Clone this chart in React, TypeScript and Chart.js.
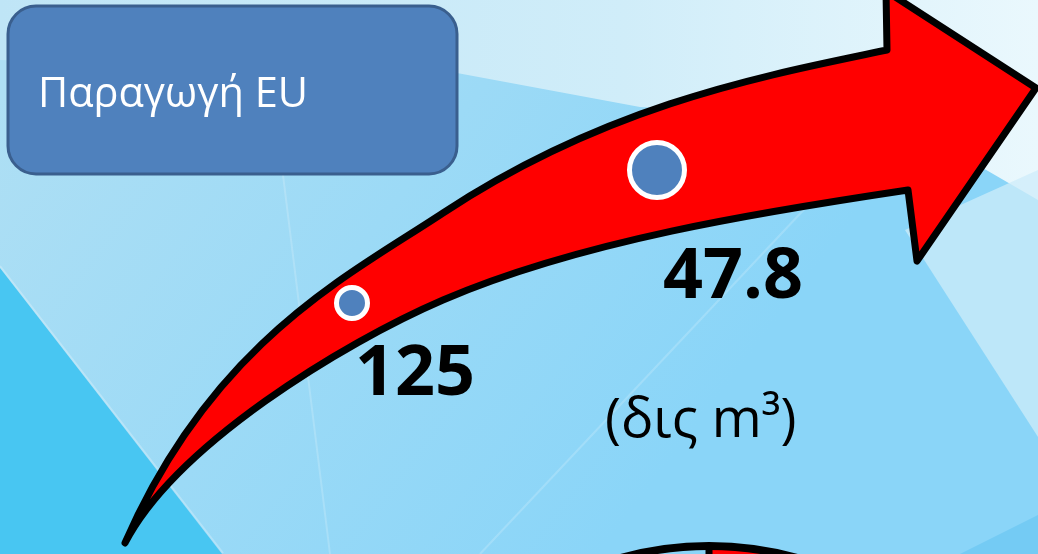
import React, { useEffect, useRef } from "react";
import { Chart, registerables } from "chart.js";

Chart.register(...registerables);

// ---- data ----
const steps = [0, 1];
const values = [125, 47.8];
const valueLabels = ["125", "47.8"];
const bubbleRadii = [15.5, 27.5];
const boxTitle = "Παραγωγή EU";
const unitLabel = "(δις m³)";

// ---- layout / style (not data) ----
const W = 1038;
const H = 554;
const labelOffsets = [
  [3, 92],
  [6, 128],
];
const FONT = "'Open Sans', 'Noto Sans', sans-serif";

type P = [number, number];

function poly(ctx: CanvasRenderingContext2D, pts: P[], fill: string | CanvasGradient) {
  ctx.beginPath();
  ctx.moveTo(pts[0][0], pts[0][1]);
  for (let i = 1; i < pts.length; i++) ctx.lineTo(pts[i][0], pts[i][1]);
  ctx.closePath();
  ctx.fillStyle = fill;
  ctx.fill();
}

function roundRect(ctx: CanvasRenderingContext2D, x: number, y: number, w: number, h: number, r: number) {
  ctx.beginPath();
  ctx.moveTo(x + r, y);
  ctx.lineTo(x + w - r, y);
  ctx.arcTo(x + w, y, x + w, y + r, r);
  ctx.lineTo(x + w, y + h - r);
  ctx.arcTo(x + w, y + h, x + w - r, y + h, r);
  ctx.lineTo(x + r, y + h);
  ctx.arcTo(x, y + h, x, y + h - r, r);
  ctx.lineTo(x, y + r);
  ctx.arcTo(x, y, x + r, y, r);
  ctx.closePath();
}

const backgroundPlugin = {
  id: "slideBackground",
  beforeDraw(chart: any) {
    const ctx: CanvasRenderingContext2D = chart.ctx;
    ctx.save();
    const g = ctx.createLinearGradient(0, 100, 600, 554);
    g.addColorStop(0, "#AEDFF4");
    g.addColorStop(1, "#8AD5F8");
    ctx.fillStyle = g;
    ctx.fillRect(0, 0, W, H);
    // light upper band
    const g2 = ctx.createLinearGradient(0, 0, W, 0);
    g2.addColorStop(0, "#BFE5F6");
    g2.addColorStop(0.6, "#D0EDF9");
    g2.addColorStop(1, "#EAF8FD");
    poly(ctx, [[0, 0], [W, 0], [W, 200], [900, 120], [640, 107], [457, 73], [0, 60]], g2);
    // right light facet
    poly(ctx, [[905, 230], [W, 170], [W, 437], [937, 280]], "rgba(205,236,250,0.75)");
    // bottom right darker strip
    poly(ctx, [[960, H], [W, 515], [W, H]], "#74CBF4");
    // cyan left triangle
    poly(ctx, [[0, 268], [222, H], [0, H]], "#48C6F2");
    // faint highlight lines
    ctx.strokeStyle = "rgba(255,255,255,0.25)";
    ctx.lineWidth = 2;
    ctx.beginPath();
    ctx.moveTo(0, 266);
    ctx.lineTo(223, 553);
    ctx.stroke();
    ctx.strokeStyle = "rgba(255,255,255,0.18)";
    ctx.beginPath();
    ctx.moveTo(283, 175);
    ctx.lineTo(330, H);
    ctx.moveTo(860, 150);
    ctx.lineTo(480, H);
    ctx.stroke();
    ctx.restore();
  },
};

const decorPlugin = {
  id: "slideDecor",
  beforeDatasetsDraw(chart: any) {
    const ctx: CanvasRenderingContext2D = chart.ctx;
    ctx.save();
    // red curved arrow
    ctx.beginPath();
    ctx.moveTo(125, 543);
    ctx.bezierCurveTo(213, 341, 351, 274, 443, 213);
    ctx.bezierCurveTo(610, 103, 769.5, 74.7, 887, 50);
    ctx.lineTo(886, -9);
    ctx.lineTo(1036, 88);
    ctx.lineTo(917, 261);
    ctx.lineTo(908, 190);
    ctx.bezierCurveTo(759.6, 212.2, 580.9, 240.8, 443, 300);
    ctx.bezierCurveTo(341.9, 343.5, 175.9, 445.4, 125, 543);
    ctx.closePath();
    ctx.fillStyle = "#FF0000";
    ctx.fill();
    ctx.lineJoin = "round";
    ctx.lineWidth = 7;
    ctx.strokeStyle = "#000000";
    ctx.stroke();

    // partial pie at the bottom
    const cx = 709, R = 330, cy = 546 + R;
    ctx.beginPath();
    ctx.moveTo(cx, cy);
    ctx.arc(cx, cy, R, -Math.PI / 2, 0);
    ctx.closePath();
    ctx.fillStyle = "#FF0000";
    ctx.fill();
    ctx.beginPath();
    ctx.arc(cx, cy, R, 0, Math.PI * 2);
    ctx.lineWidth = 8;
    ctx.stroke();
    ctx.beginPath();
    ctx.moveTo(cx, cy);
    ctx.lineTo(cx, cy - R);
    ctx.lineWidth = 7;
    ctx.stroke();

    // title box
    roundRect(ctx, 8, 6, 449, 168, 28);
    ctx.fillStyle = "#4F81BD";
    ctx.fill();
    ctx.lineWidth = 3;
    ctx.strokeStyle = "#3A5F8E";
    ctx.stroke();
    ctx.fillStyle = "#FFFFFF";
    ctx.font = `400 41.5px ${FONT}`;
    ctx.textBaseline = "alphabetic";
    ctx.textAlign = "left";
    ctx.fillText(boxTitle, 38, 107);
    ctx.restore();
  },
  afterDatasetsDraw(chart: any) {
    const ctx: CanvasRenderingContext2D = chart.ctx;
    const meta = chart.getDatasetMeta(0);
    ctx.save();
    ctx.fillStyle = "#000000";
    ctx.textAlign = "left";
    ctx.textBaseline = "alphabetic";
    ctx.font = `700 70px ${FONT}`;
    meta.data.forEach((el: any, i: number) => {
      const [dx, dy] = labelOffsets[i];
      ctx.fillText(valueLabels[i], el.x + dx, el.y + dy);
    });
    ctx.font = `400 54px ${FONT}`;
    ctx.fillText(unitLabel, 605, 437);
    ctx.restore();
  },
};

export default function App() {
  const ref = useRef<HTMLCanvasElement | null>(null);
  useEffect(() => {
    if (!ref.current) return;
    const chart = new Chart(ref.current, {
      type: "bubble",
      data: {
        datasets: [
          {
            data: steps.map((s, i) => ({ x: s, y: values[i], r: bubbleRadii[i] })),
            backgroundColor: "#4F81BD",
            borderColor: "#FFFFFF",
            borderWidth: 5,
            hoverBorderWidth: 5,
          },
        ],
      },
      options: {
        responsive: false,
        animation: false,
        events: [],
        layout: { padding: 0, autoPadding: false },
        plugins: { legend: { display: false }, tooltip: { enabled: false } },
        scales: {
          x: { type: "linear", display: false, min: -1.1541, max: 2.2492 },
          y: { type: "linear", display: false, reverse: true, min: -50.88, max: 270.69 },
        },
      },
      plugins: [backgroundPlugin, decorPlugin],
    });
    return () => chart.destroy();
  }, []);
  return (
    <div style={{ position: "absolute", left: 0, top: 0, width: W, height: H, overflow: "hidden" }}>
      <canvas ref={ref} width={W} height={H} style={{ display: "block" }} />
    </div>
  );
}
